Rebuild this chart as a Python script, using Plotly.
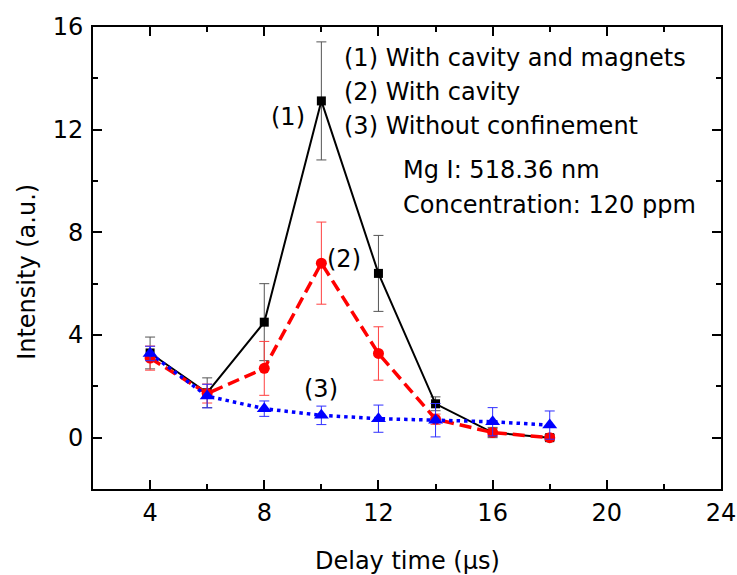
import plotly.graph_objects as go

delay = [4, 6, 8, 10, 12, 14, 16, 18]

s1_name = "(1) With cavity and magnets"
s1_vals = [3.3, 1.75, 4.5, 13.12, 6.4, 1.32, 0.2, 0.0]
s1_err = [0.62, 0.58, 1.5, 2.3, 1.48, 0.27, 0.2, 0.12]

s2_name = "(2) With cavity"
s2_vals = [3.1, 1.72, 2.7, 6.8, 3.28, 0.72, 0.2, 0.0]
s2_err = [0.47, 0.37, 1.05, 1.6, 1.04, 0.2, 0.15, 0.1]

s3_name = "(3) Without confinement"
s3_vals = [3.28, 1.62, 1.13, 0.87, 0.74, 0.68, 0.62, 0.49]
s3_err = [0.28, 0.46, 0.3, 0.36, 0.53, 0.65, 0.55, 0.55]

info_lines = ["Mg I: 518.36 nm", "Concentration: 120 ppm"]
x_ticks = [4, 8, 12, 16, 20, 24]
y_ticks = [0, 4, 8, 12, 16]

FONT = "DejaVu Sans, Liberation Sans, Arial, sans-serif"
FS = 24

fig = go.Figure()
fig.add_trace(go.Scatter(
    x=delay, y=s1_vals, mode="lines+markers", name=s1_name,
    line=dict(color="black", width=2),
    marker=dict(symbol="square", size=9, color="black"),
    error_y=dict(type="data", array=s1_err, color="#555555", thickness=1, width=5),
))
fig.add_trace(go.Scatter(
    x=delay, y=s2_vals, mode="lines+markers", name=s2_name,
    line=dict(color="#ff0000", width=3.5, dash="12px,6px"),
    marker=dict(symbol="circle", size=11, color="#ff0000"),
    error_y=dict(type="data", array=s2_err, color="#ff4040", thickness=1, width=5),
))
fig.add_trace(go.Scatter(
    x=delay, y=s3_vals, mode="lines+markers", name=s3_name,
    line=dict(color="#0000ff", width=3.5, dash="3.5px,4px"),
    marker=dict(symbol="triangle-up", size=13, color="#0000ff"),
    error_y=dict(type="data", array=s3_err, color="#3030ff", thickness=1, width=5),
))

axis_common = dict(
    showline=True, linecolor="black", linewidth=2, mirror="allticks",
    ticks="inside", ticklen=9, tickwidth=2, tickcolor="black",
    showgrid=False, zeroline=False, automargin=False,
    tickfont=dict(family=FONT, size=FS, color="black"),
)
fig.update_xaxes(range=[2, 24], tickvals=x_ticks, ticklabelstandoff=1,
                 minor=dict(ticks="inside", ticklen=5, tickwidth=2, tickcolor="black", dtick=2, tick0=0),
                 **axis_common)
fig.update_yaxes(range=[-2, 16], tickvals=y_ticks, ticklabelstandoff=3,
                 minor=dict(ticks="inside", ticklen=5, tickwidth=2, tickcolor="black", dtick=2, tick0=0),
                 **axis_common)

ann = []
legend_rows = [(s1_name, 14.8), (s2_name, 13.45), (s3_name, 12.16)]
for txt, yy in legend_rows:
    ann.append(dict(x=10.72, y=yy, xref="x", yref="y", text=txt, showarrow=False,
                    xanchor="left", yanchor="middle", font=dict(family=FONT, size=FS, color="black")))
for txt, yy in zip(info_lines, [10.43, 9.07]):
    ann.append(dict(x=12.8, y=yy, xref="x", yref="y", text=txt, showarrow=False,
                    xanchor="left", yanchor="middle", font=dict(family=FONT, size=FS, color="black")))
for txt, xx, yy in [("(1)", 8.84, 12.49), ("(2)", 10.79, 6.96), ("(3)", 10.0, 1.90)]:
    ann.append(dict(x=xx, y=yy, xref="x", yref="y", text=txt, showarrow=False,
                    xanchor="center", yanchor="middle", font=dict(family=FONT, size=FS, color="black")))
# axis titles
ann.append(dict(x=0.5, y=0, xref="paper", yref="paper", yshift=-72, text="Delay time (\u03bcs)",
                showarrow=False, xanchor="center", yanchor="middle",
                font=dict(family=FONT, size=FS, color="black")))
ann.append(dict(x=0, y=0.47, xref="paper", yref="paper", xshift=-66, text="Intensity (a.u.)",
                textangle=-90, showarrow=False, xanchor="center", yanchor="middle",
                font=dict(family=FONT, size=FS, color="black")))

fig.update_layout(
    width=737, height=575,
    margin=dict(l=93, r=16, t=27, b=86),
    plot_bgcolor="white", paper_bgcolor="white",
    showlegend=False,
    annotations=ann,
)

# remove the default page margin so the figure sits at the window's top-left corner
fig.write_html(
    "out.html",
    config={"displayModeBar": False},
    post_script="document.body.style.margin='0';document.body.style.overflow='hidden';",
)
